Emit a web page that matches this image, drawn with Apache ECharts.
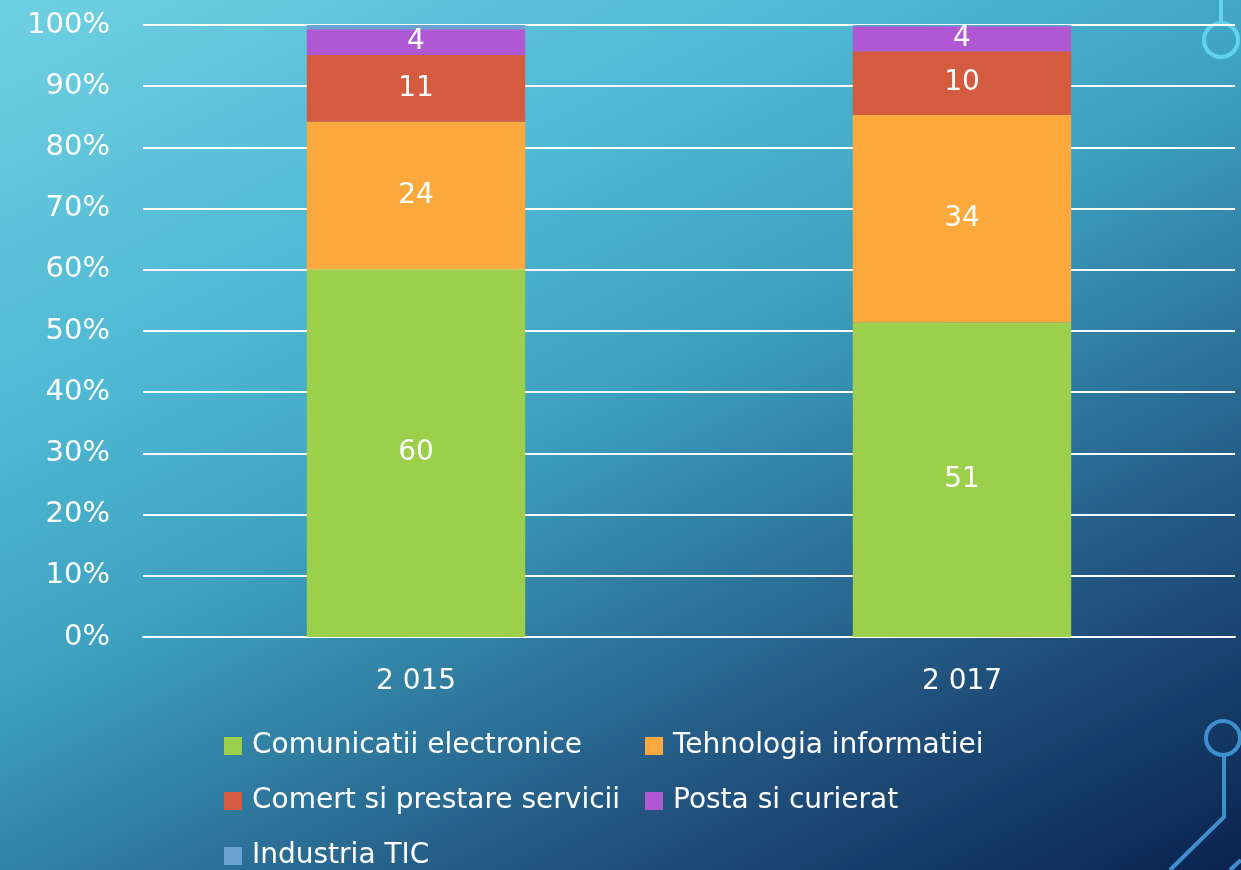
<!DOCTYPE html>
<html>
<head>
<meta charset="utf-8">
<script src="https://cdn.jsdelivr.net/npm/echarts@6/dist/echarts.min.js"></script>
<style>
  html, body { margin: 0; padding: 0; }
  #chart { width: 1241px; height: 870px; }
</style>
</head>
<body>
<div id="chart"></div>
<script>
// categorii (ani) si valori (%)
var years = ['2 015', '2 017'];
var seriesNames = ['Comunicatii electronice', 'Tehnologia informatiei', 'Comert si prestare servicii', 'Posta si curierat', 'Industria TIC'];
var comunicatii = [60.1, 51.4];
var tehnologia = [24.1, 33.9];
var comert = [10.9, 10.4];
var posta = [4.2, 4.1];
var industria = [0.7, 0.2];
var yTicks = [0, 10, 20, 30, 40, 50, 60, 70, 80, 90, 100];

var colors = ['#9bcf4c', '#fba83c', '#d55b40', '#b057d3', '#6aa2d2'];
var values = [comunicatii, tehnologia, comert, posta, industria];
var font = 'DejaVu Sans';

var chart = echarts.init(document.getElementById('chart'));

var series = seriesNames.map(function (name, i) {
  return {
    name: name,
    type: 'bar',
    stack: 'total',
    barWidth: '40%',
    data: values[i],
    itemStyle: { color: colors[i] },
    label: {
      show: i < 4,
      position: 'inside',
      color: '#fff',
      fontFamily: font,
      fontSize: 28,
      formatter: function (p) { return Math.round(p.value); }
    }
  };
});

// legenda asezata pe doua coloane
var legendPos = [[224, 730], [645, 730], [224, 785], [645, 785], [224, 840]];
var legends = seriesNames.map(function (name, i) {
  return {
    data: [name],
    left: legendPos[i][0],
    top: legendPos[i][1],
    padding: 0,
    itemWidth: 18,
    itemHeight: 18,
    itemGap: 0,
    icon: 'rect',
    textStyle: { color: '#fff', fontFamily: font, fontSize: 28, lineHeight: 32, padding: [0, 0, 0, 5] },
    selectedMode: false
  };
});

chart.setOption({
  backgroundColor: {
    type: 'linear', x: 0, y: 0, x2: 596, y2: 1192, global: true,
    colorStops: [
      { offset: 0, color: '#6fd0e2' },
      { offset: 0.29, color: '#4fb8d3' },
      { offset: 0.47, color: '#3da0bf' },
      { offset: 0.76, color: '#225580' },
      { offset: 1, color: '#0a2350' }
    ]
  },
  animation: false,
  grid: { left: 143, right: 6, top: 25, bottom: 233 },
  legend: legends,
  xAxis: {
    type: 'category',
    data: years,
    axisLine: { lineStyle: { color: '#fff', width: 2 } },
    axisTick: { show: false },
    axisLabel: { color: '#fff', fontFamily: font, fontSize: 28, margin: 31 }
  },
  yAxis: {
    type: 'value',
    min: yTicks[0],
    max: yTicks[yTicks.length - 1],
    interval: 10,
    axisLine: { show: false },
    axisTick: { show: false },
    splitLine: { lineStyle: { color: '#fff', width: 2 } },
    axisLabel: { color: '#fff', fontFamily: font, fontSize: 29, margin: 33, formatter: '{value}%' }
  },
  series: series,
  graphic: [
    // decoratiuni in dreapta (linii de circuit)
    { type: 'line', shape: { x1: 1221, y1: 0, x2: 1221, y2: 22 }, style: { stroke: '#62d3ea', lineWidth: 4 }, z: -1 },
    { type: 'circle', shape: { cx: 1221, cy: 40, r: 17 }, style: { fill: 'none', stroke: '#62d3ea', lineWidth: 4 }, z: -1 },
    { type: 'circle', shape: { cx: 1223, cy: 738, r: 17 }, style: { fill: 'none', stroke: '#3f8fcf', lineWidth: 4 }, z: -1 },
    { type: 'polyline', shape: { points: [[1224, 755], [1224, 817], [1170, 870]] }, style: { fill: 'none', stroke: '#3f8fcf', lineWidth: 4 }, z: -1 },
    { type: 'line', shape: { x1: 1230, y1: 870, x2: 1241, y2: 860 }, style: { stroke: '#3f8fcf', lineWidth: 4 }, z: -1 }
  ]
});
</script>
</body>
</html>
